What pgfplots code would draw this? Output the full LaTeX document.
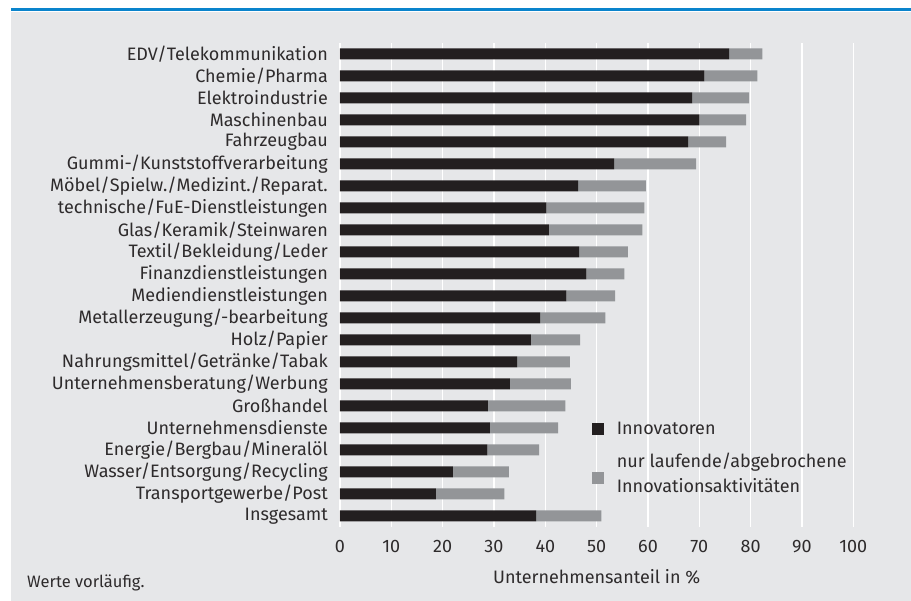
\documentclass[border=0pt]{standalone}
\usepackage{pgfplots}
\pgfplotsset{compat=1.18}
\usepackage{pgfplotstable}
\usepackage{fontspec}
\setmainfont{Fira Sans}

\definecolor{innov}{HTML}{231F20}
\definecolor{laufend}{HTML}{939598}
\definecolor{bg}{HTML}{E6E7E9}
\definecolor{blau}{HTML}{0A84CC}
\definecolor{txt}{HTML}{2E2B2C}

% pos: 0 = oberste Zeile; innov = Innovatoren, lauf = nur laufende/abgebrochene
\pgfplotstableread{
pos innov lauf
0  75.8  6.5
1  71.0 10.3
2  68.6 11.1
3  70.0  9.1
4  67.8  7.4
5  53.4 16.0
6  46.4 13.2
7  40.2 19.1
8  40.7 18.2
9  46.6  9.5
10 48.0  7.4
11 44.1  9.5
12 39.0 12.7
13 37.2  9.6
14 34.5 10.3
15 33.1 11.9
16 28.8 15.1
17 29.2 13.3
18 28.7 10.1
19 22.0 10.9
20 18.7 13.3
21 38.2 12.7
}\daten

\begin{document}
\begin{tikzpicture}
\useasboundingbox (0,0) rectangle (911pt,601pt);
\fill[bg] (10.5pt,0) rectangle (911pt,589pt);
\fill[blau] (10.5pt,589.5pt) rectangle (911pt,592.5pt);
\node[anchor=base west, text=txt, font=\fontsize{16.5}{20}\selectfont, inner sep=0pt]
  at (27pt,13pt) {Werte vorläufig.};
\begin{axis}[
  at={(340pt,74pt)}, anchor=south west,
  scale only axis,
  width=513.3pt, height=484pt,
  xbar stacked,
  bar width=11pt,
  xmin=0, xmax=100,
  ymin=-0.5, ymax=21.5,
  y dir=reverse,
  axis line style={draw=none},
  major tick length=0pt,
  xtick={0,10,...,100},
  ytick={0,...,21},
  yticklabels={EDV/Telekommunikation, Chemie/Pharma, Elektroindustrie,
    Maschinenbau, Fahrzeugbau, Gummi-/Kunststoffverarbeitung,
    Möbel/Spielw./Medizint./Reparat., technische/FuE-Dienstleistungen,
    Glas/Keramik/Steinwaren, Textil/Bekleidung/Leder, Finanzdienstleistungen,
    Mediendienstleistungen, Metallerzeugung/-bearbeitung, Holz/Papier,
    Nahrungsmittel/Getränke/Tabak, Unternehmensberatung/Werbung, Großhandel,
    Unternehmensdienste, Energie/Bergbau/Mineralöl,
    Wasser/Entsorgung/Recycling, Transportgewerbe/Post, Insgesamt},
  /pgf/number format/assume math mode=true,
  tick label style={text=txt, font=\fontsize{18}{21}\selectfont},
  yticklabel style={anchor=east, inner sep=0pt, xshift=-12pt},
  xticklabel style={anchor=north, inner sep=0pt, yshift=-13pt},
  xmajorgrids,
  major grid style={white, line width=1.3pt},
  xlabel={Unternehmensanteil in \%},
  xlabel style={at={(axis description cs:0.5,0)}, anchor=base, inner sep=0pt,
    yshift=-57pt, text=txt, font=\fontsize{18}{21}\selectfont},
  legend style={draw=none, fill=none, at={(axis cs:49.15,16.70)},
    anchor=north west, inner sep=0pt, row sep=17pt, column sep=12.4pt,
    font=\fontsize{18}{25}\selectfont, text=txt,
    nodes={inner sep=0pt, text=txt},
    cells={align=left}},
  legend cell align=left,
]
\addplot[fill=innov, draw=none,
  legend image code/.code={\fill[innov] (0pt,-6pt) rectangle (12pt,6pt);}]
  table[x=innov, y=pos] {\daten};
\addplot[fill=laufend, draw=none,
  legend image code/.code={\fill[laufend] (0pt,-11pt) rectangle (12pt,1pt);}]
  table[x=lauf, y=pos] {\daten};
\legend{Innovatoren, {nur laufende/abgebrochene\\Innovationsaktivitäten}}
\end{axis}
\end{tikzpicture}
\end{document}
